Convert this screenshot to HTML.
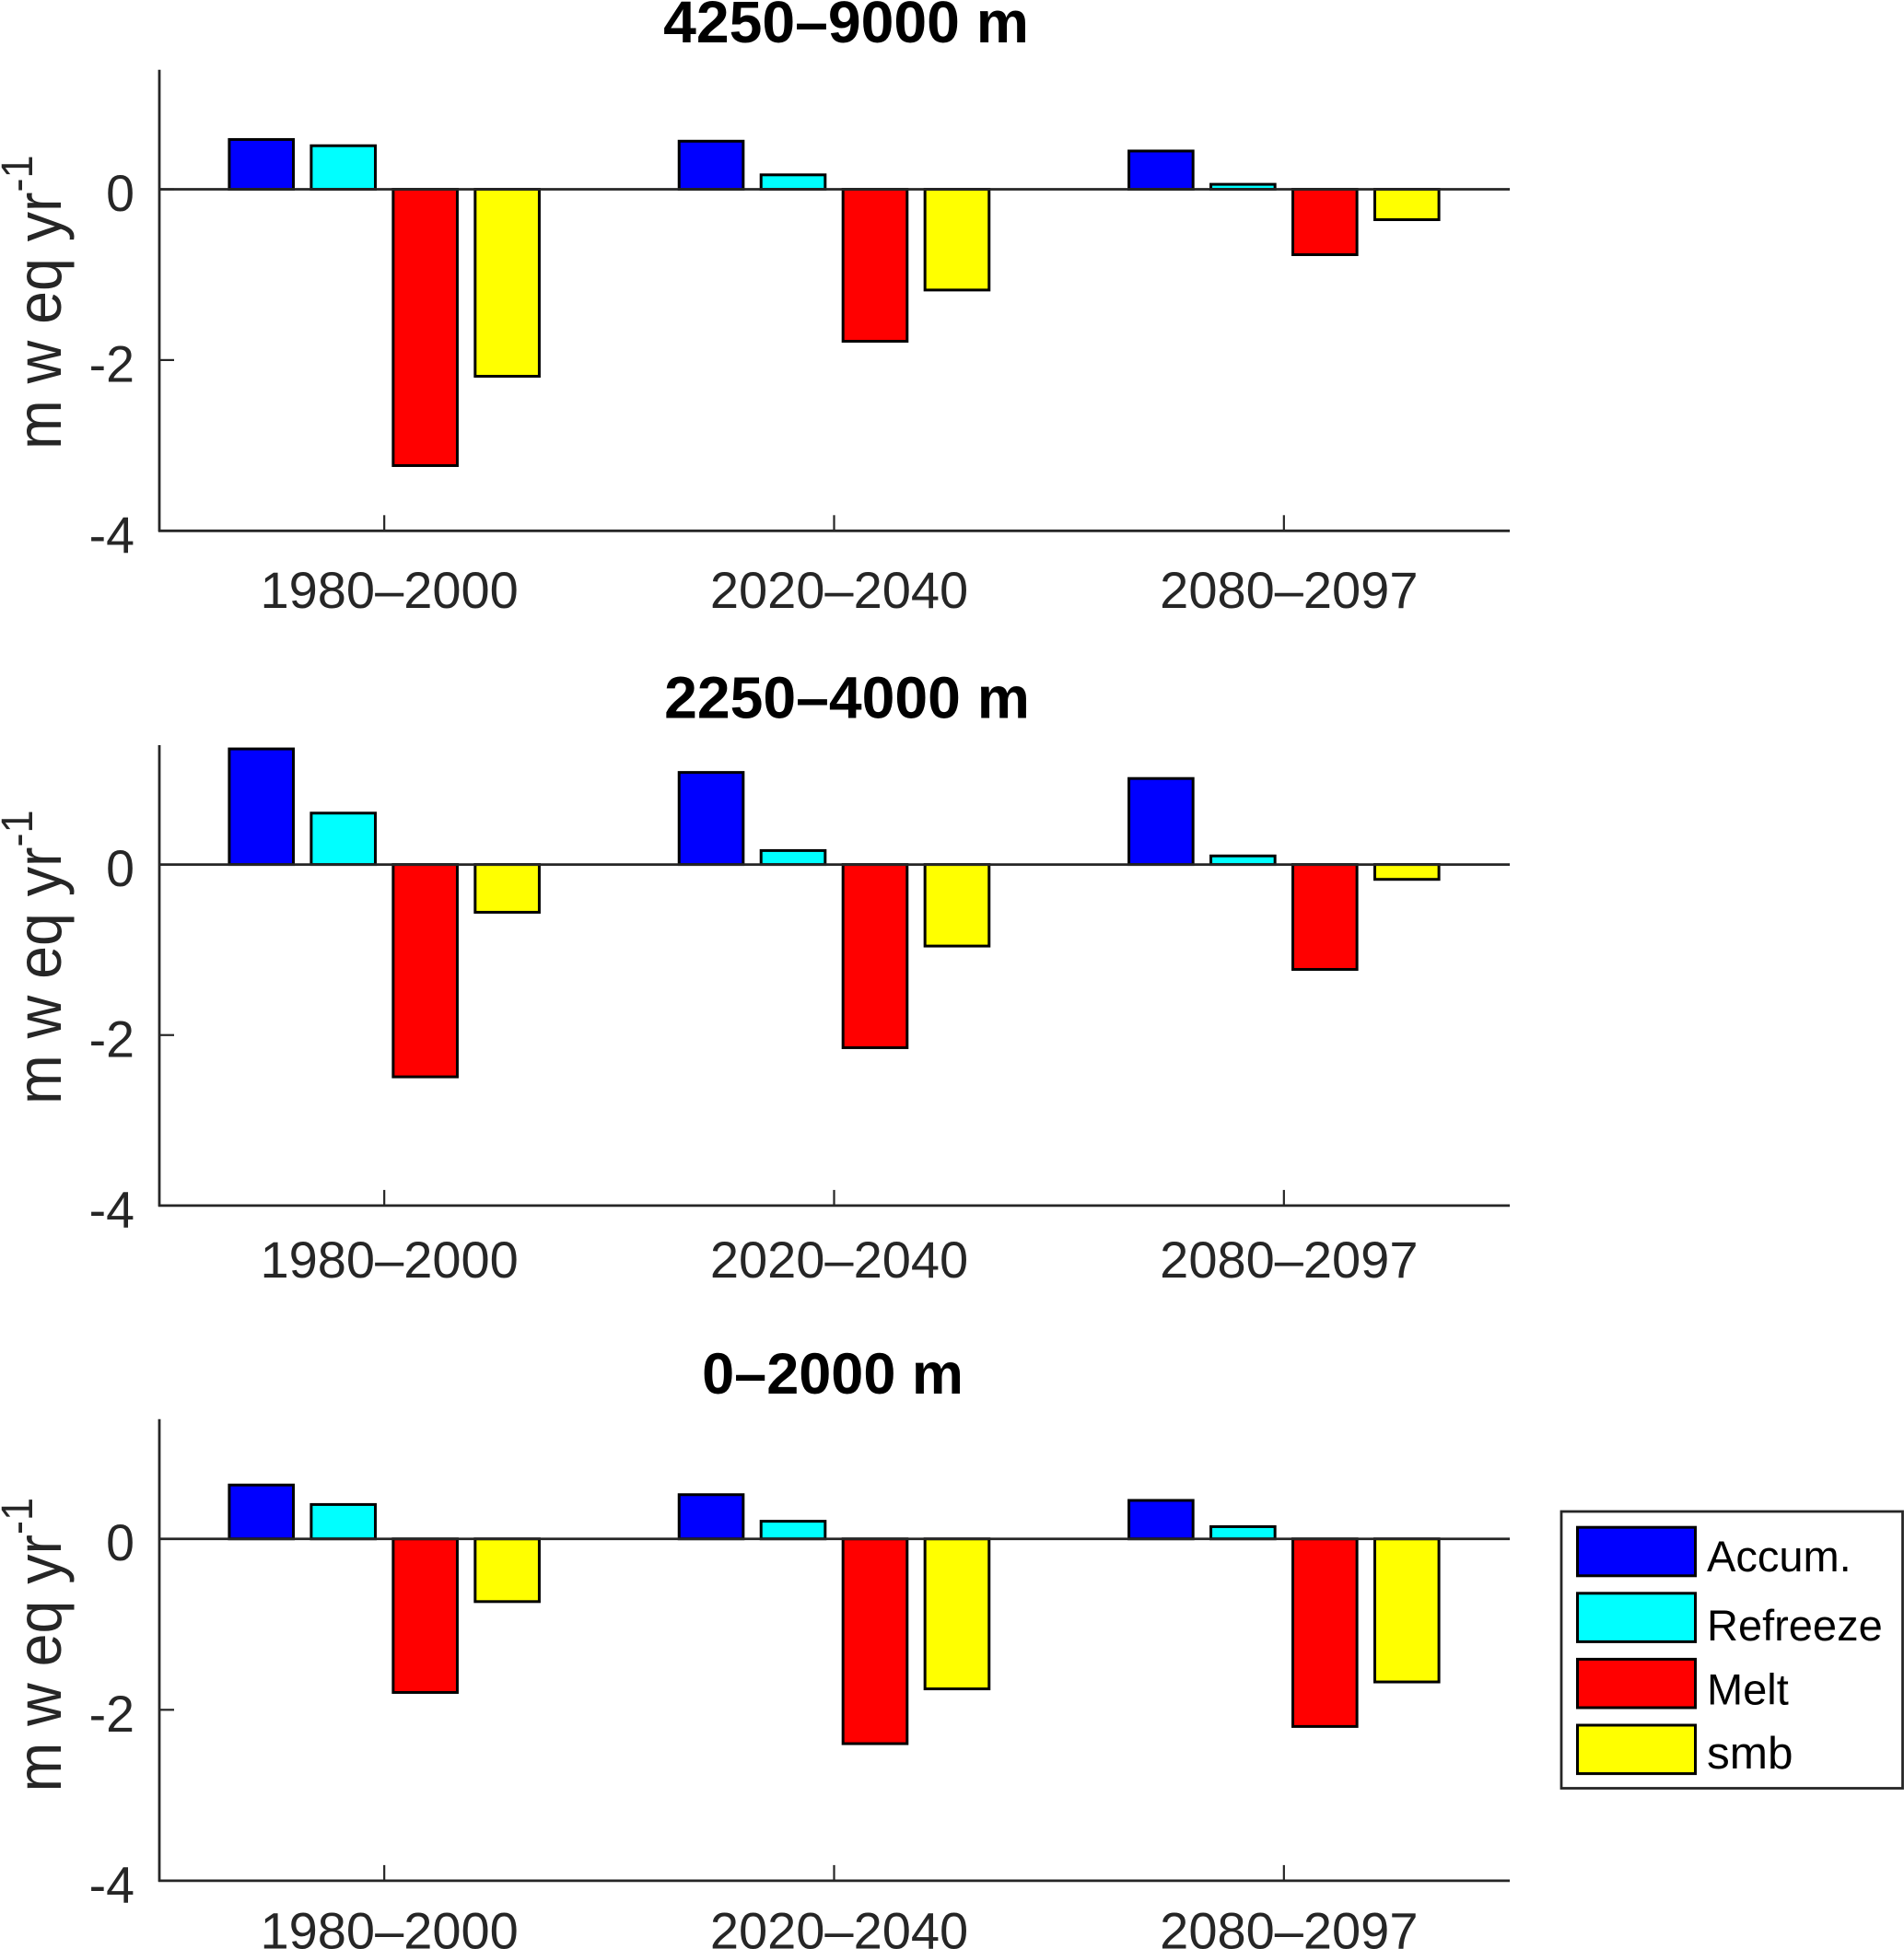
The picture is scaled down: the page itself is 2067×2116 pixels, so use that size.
<!DOCTYPE html>
<html lang="en">
<head>
<meta charset="utf-8">
<title>Mass balance components by elevation band</title>
<style>
html,body{margin:0;padding:0;background:#fff;width:2067px;height:2116px;overflow:hidden}
svg{display:block;font-family:"Liberation Sans",Arial,sans-serif}
</style>
</head>
<body>
<svg id="chart" xmlns="http://www.w3.org/2000/svg" width="2067" height="2116" viewBox="0 0 2067 2116">
  <rect x="0" y="0" width="2067" height="2116" fill="#ffffff"/>
  <g id="panels"></g>
  <g id="legend"></g>
</svg>
<script>
// ---- data ----
const periods = ['1980\u20132000', '2020\u20132040', '2080\u20132097'];
const yTicks = [0, -2, -4];
const yTickLabels = ['0', '-2', '-4'];
const seriesNames = ['Accum.', 'Refreeze', 'Melt', 'smb'];
const seriesColors = ['#0000ff', '#00ffff', '#ff0000', '#ffff00'];

const titles = ['4250\u20139000 m', '2250\u20134000 m', '0\u20132000 m'];

const accumHigh = [0.583, 0.563, 0.448];
const refreezeHigh = [0.51, 0.169, 0.058];
const meltHigh = [-3.236, -1.78, -0.766];
const smbHigh = [-2.19, -1.18, -0.356];

const accumMid = [1.356, 1.08, 1.009];
const refreezeMid = [0.603, 0.164, 0.101];
const meltMid = [-2.49, -2.148, -1.23];
const smbMid = [-0.56, -0.956, -0.174];

const accumLow = [0.63, 0.517, 0.45];
const refreezeLow = [0.402, 0.206, 0.143];
const meltLow = [-1.797, -2.396, -2.195];
const smbLow = [-0.734, -1.755, -1.674];

const yMin = -4;
const yMax = 1.4;

// ---- drawing ----
const NS = 'http://www.w3.org/2000/svg';
const INK = '#262626';
const panelsRoot = document.getElementById('panels');
const legendRoot = document.getElementById('legend');

function make(parent, tag, attrs, text) {
  const el = document.createElementNS(NS, tag);
  for (const k in attrs) el.setAttribute(k, attrs[k]);
  if (text !== undefined) el.textContent = text;
  parent.appendChild(el);
  return el;
}

const axisLeft = 173;
const axisRight = 1638;
function xScale(position) {
  // categories sit at 1,2,3 on an x-range of 0.5..3.5
  return axisLeft + (position - 0.5) * (axisRight - axisLeft) / 3;
}

function drawPanel(cfg) {
  const yScale = v => cfg.bottom - (v - yMin) * (cfg.bottom - cfg.top) / (yMax - yMin);
  const zeroY = yScale(0);
  const group = make(panelsRoot, 'g', {});
  
  

  const title = make(group, 'text', {x: cfg.titleX, y: cfg.titleY, 'font-size': cfg.titleSize, 'font-weight': 'bold', fill: '#000', 'text-anchor': 'middle'}, cfg.title);
  
  

  const yLab = make(group, 'text', {transform: 'translate(66,' + cfg.yLabelY + ') rotate(-90) scale(1,1.07)', 'font-size': 64.5, fill: INK});
  
  
  make(yLab, 'tspan', {}, 'm w eq yr');
  make(yLab, 'tspan', {dy: -29, 'font-size': 45}, '-1');

  const yAxis = make(group, 'line', {x1: axisLeft, x2: axisLeft, y1: cfg.top, y2: cfg.bottom + 1, stroke: INK, 'stroke-width': 2.8});
  
  

  const xAxis = make(group, 'line', {x1: axisLeft - 1, x2: axisRight + 1, y1: cfg.bottom, y2: cfg.bottom, stroke: INK, 'stroke-width': 2.8});
  
  

  yTicks.forEach((tick, i) => {
    const mark = make(group, 'line', {x1: axisLeft, x2: axisLeft + 16, y1: yScale(tick), y2: yScale(tick), stroke: INK, 'stroke-width': 2.2});
    
    
    const lab = make(group, 'text', {x: 146, y: yScale(tick) + 23.5, 'font-size': 55.5, fill: INK, 'text-anchor': 'end'}, yTickLabels[i]);
    
    
  });

  periods.forEach((period, i) => {
    const cx = xScale(i + 1);
    const mark = make(group, 'line', {x1: cx, x2: cx, y1: cfg.bottom - 17, y2: cfg.bottom, stroke: INK, 'stroke-width': 2.2});
    
    
    const lab = make(group, 'text', {x: cx + 5.5, y: cfg.xLabelY, 'font-size': 56, fill: INK, 'text-anchor': 'middle'}, period);
    
    
  });

  const barStep = 0.1822;
  const barW = 69.6;
  cfg.series.forEach((values, s) => {
    values.forEach((value, i) => {
      const cx = xScale(i + 1 + (s - 1.5) * barStep);
      const yTop = Math.min(yScale(value), zeroY);
      const h = Math.abs(yScale(value) - zeroY);
      const bar = make(group, 'rect', {x: cx - barW / 2, y: yTop, width: barW, height: h, fill: seriesColors[s], stroke: '#000', 'stroke-width': 3});
      
      
    });
  });

  const base = make(group, 'line', {x1: axisLeft, x2: axisRight + 1, y1: zeroY, y2: zeroY, stroke: INK, 'stroke-width': 2.8});
  
  
}

drawPanel({name: 'panel-high-elevation', title: titles[0], titleSize: 64.3, titleX: 918.5, titleY: 46, top: 75.7, bottom: 576.3, yLabelY: 488, xLabelY: 660,
  series: [accumHigh, refreezeHigh, meltHigh, smbHigh]});
drawPanel({name: 'panel-mid-elevation', title: titles[1], titleSize: 64.3, titleX: 919.5, titleY: 779.5, top: 809, bottom: 1308.9, yLabelY: 1199, xLabelY: 1387,
  series: [accumMid, refreezeMid, meltMid, smbMid]});
drawPanel({name: 'panel-low-elevation', title: titles[2], titleSize: 63, titleX: 904, titleY: 1513, top: 1540.8, bottom: 2041.9, yLabelY: 1945.5, xLabelY: 2115.5,
  series: [accumLow, refreezeLow, meltLow, smbLow]});

// ---- legend ----
const legendBox = make(legendRoot, 'rect', {x: 1695, y: 1641, width: 370.5, height: 300.5, fill: '#fff', stroke: INK, 'stroke-width': 2.8});



const swatchTop = 1658.2;
const swatchPitch = 71.6;
const legendTextNudge = [47.8, 51.2, 49.3, 47.2];
const legendTextSize = [47, 47, 47, 49.5];
seriesNames.forEach((name, i) => {
  const top = swatchTop + i * swatchPitch;
  const sw = make(legendRoot, 'rect', {x: 1712.5, y: top, width: 128, height: 52.6, fill: seriesColors[i], stroke: '#000', 'stroke-width': 3});
  
  
  const lab = make(legendRoot, 'text', {x: 1853, y: top + legendTextNudge[i], 'font-size': legendTextSize[i], fill: '#000'}, name);
  
  
});
</script>
</body>
</html>
